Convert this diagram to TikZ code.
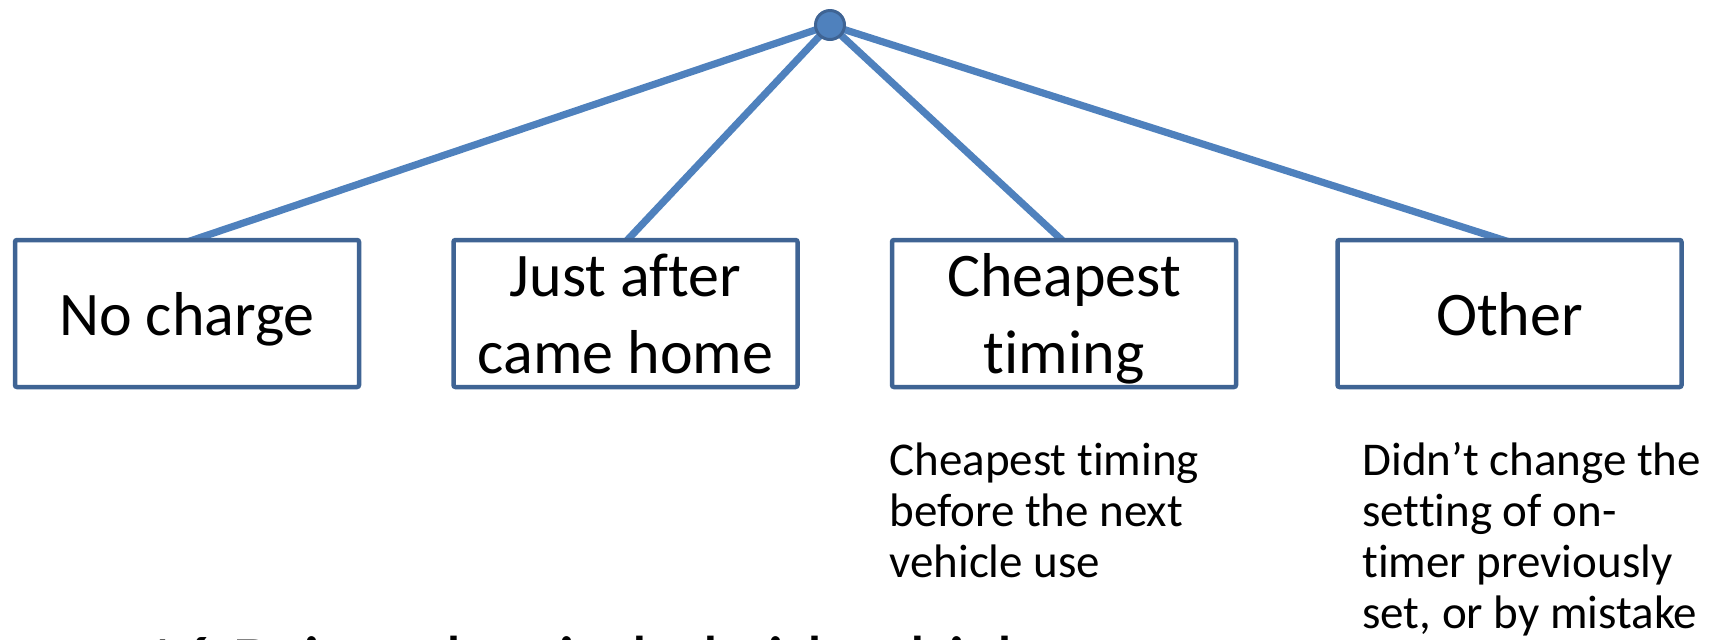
\documentclass[tikz,border=0pt]{standalone}
\usepackage{fontspec}
\setmainfont{Carlito}[Ligatures={NoCommon}]
\definecolor{linkblue}{HTML}{4F81BD}
\definecolor{boxblue}{HTML}{3F6494}
\begin{document}
\begin{tikzpicture}[x=0.5pt,y=-0.5pt,
  catbox/.style={draw=boxblue, line width=2.25pt, fill=white, rounded corners=1pt,
    minimum width=172pt, minimum height=73.5pt, inner sep=0pt, align=center,
    text depth=0pt, font=\fontsize{31}{38.5}\selectfont},
  link/.style={draw=linkblue, line width=3.6pt},
  rootdot/.style={circle, fill=linkblue, draw=boxblue, line width=1.5pt, minimum size=14.5pt, inner sep=0pt},
  note/.style={anchor=base west, inner sep=0pt, align=left, font=\fontsize{23.5}{25.5}\selectfont}
]
\useasboundingbox (0,0) rectangle (1725,639);
\clip (0,0) rectangle (1725,639);
\coordinate (root) at (830,25);
\coordinate (c1) at (187,313.5);
\coordinate (c2) at (625.5,313.5);
\coordinate (c3) at (1064,313.5);
\coordinate (c4) at (1509.5,313.5);
\draw[link] (root) -- ([yshift=-2pt]c1 |- 0,238);
\draw[link] (root) -- ([yshift=-2pt]c2 |- 0,238);
\draw[link] (root) -- ([yshift=-2pt]c3 |- 0,238);
\draw[link] (root) -- ([yshift=-2pt]c4 |- 0,238);
\node[catbox] (b1) at (c1) {No charge};
\node[catbox] (b2) at (c2) {Just after\\came home};
\node[catbox] (b3) at (c3) {Cheapest\\timing};
\node[catbox] (b4) at (c4) {Other};
\node[rootdot] (dot) at (root) {};
\node[note] (n3) at (889,577) {Cheapest timing\\before the next\\vehicle use};
\node[note] (n4) at (1362,628) {Didn’t change the\\setting of on-\\timer previously\\set, or by mistake};
\node[anchor=base west, inner sep=0pt, font=\fontsize{37}{44}\selectfont] (cap) at (140,687) {16 Drive plug-in hybrid vehicle};
\end{tikzpicture}
\end{document}
